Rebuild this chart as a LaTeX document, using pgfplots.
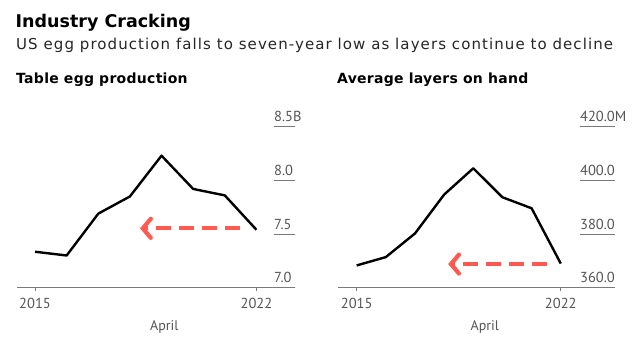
\documentclass[border=0pt]{standalone}
\usepackage{pgfplots}
\pgfplotsset{compat=1.18}
\usepackage{fontspec}
\setmainfont{DejaVu Sans}
\newfontfamily\tickfont{PT Sans}
\newfontfamily\subfont[LetterSpace=7.2]{DejaVu Sans}
\newfontfamily\panelfont[LetterSpace=2.0]{DejaVu Sans}
\usetikzlibrary{arrows.meta}
\definecolor{arrowred}{HTML}{FF5A4F}
\definecolor{txtgray}{HTML}{555555}
\definecolor{axgray}{HTML}{7A7A7A}

\pgfplotstableread{
year val
2015 7.335
2016 7.30
2017 7.69
2018 7.85
2019 8.23
2020 7.92
2021 7.86
2022 7.54
}\eggprod

\pgfplotstableread{
year val
2015 368.3
2016 371.4
2017 380.2
2018 394.7
2019 404.5
2020 393.7
2021 389.6
2022 369.0
}\layers

\pgfplotsset{
  chartstyle/.style={
    scale only axis,
    axis x line*=bottom,
    axis y line*=right,
    y axis line style={draw=none},
    x axis line style={draw=axgray, line width=1pt},
    tick align=outside,
    major tick length=3.5pt,
    xtick={2015,2022},
    xticklabels={2015,2022},
    xtick style={draw=axgray, line width=1pt},
    ytick style={draw=none},
    ymajorgrids,
    yticklabel pos=right,
    tick label style={font=\fontsize{14.5}{16}\tickfont, text=txtgray, inner sep=0pt},
    xticklabel style={anchor=north, yshift=-7pt},
    xlabel={April},
    xlabel style={at={(axis description cs:0.53,0)}, anchor=base, yshift=-43pt, font=\fontsize{14}{16}\tickfont, text=txtgray, inner sep=0pt},
    clip=false,
  },
  dataline/.style={black, line width=2.4pt, line join=round, no markers},
  arrowline/.style={arrowred, line width=4.2pt, dash pattern=on 15pt off 8pt,
    -{Straight Barb[length=8pt, width=19pt, line cap=round]}, no markers},
}

\begin{document}
\begin{tikzpicture}[x=1pt,y=1pt]
\path[fill=white] (0,0) rectangle (640,352);
\node[anchor=base west, inner sep=0pt, font=\fontsize{17.5}{20}\selectfont\bfseries] at (15.5,324.7) {Industry Cracking};
\node[anchor=base west, inner sep=0pt, font=\fontsize{15}{17}\subfont, text=black!85] at (16,302.7) {US egg production falls to seven-year low as layers continue to decline};
\node[anchor=base west, inner sep=0pt, font=\fontsize{14}{16}\panelfont\bfseries] at (16,268) {Table egg production};
\node[anchor=base west, inner sep=0pt, font=\fontsize{14}{16}\panelfont\bfseries] at (337,268) {Average layers on hand};

\begin{axis}[chartstyle,
  at={(17pt,64.3pt)}, anchor=south west,
  width=278pt, height=161pt,
  xmin=2014.43, xmax=2023.22,
  ymin=7, ymax=8.5,
  ytick={7,7.5,8,8.5},
  yticklabels={7.0,7.5,8.0,8.5B},
  grid style={draw=axgray, line width=1pt, dash pattern=on 0pt off 257pt on 21pt},
  yticklabel style={anchor=base west, xshift=-24.5pt, yshift=5pt},
]
\addplot[dataline] table[x=year, y=val] {\eggprod};
\addplot[arrowline] coordinates {(2021.49,7.553) (2018.32,7.553)};
\end{axis}

\begin{axis}[chartstyle,
  at={(338pt,64.3pt)}, anchor=south west,
  width=277pt, height=161pt,
  xmin=2014.36, xmax=2023.86,
  ymin=360, ymax=420,
  ytick={360,380,400,420},
  yticklabels={360.0,380.0,400.0,420.0M},
  grid style={draw=axgray, line width=1pt, dash pattern=on 0pt off 242pt on 35pt},
  yticklabel style={anchor=base west, xshift=-38.5pt, yshift=5pt},
]
\addplot[dataline] table[x=year, y=val] {\layers};
\addplot[arrowline] coordinates {(2021.52,368.8) (2018.14,368.8)};
\end{axis}
\end{tikzpicture}
\end{document}
